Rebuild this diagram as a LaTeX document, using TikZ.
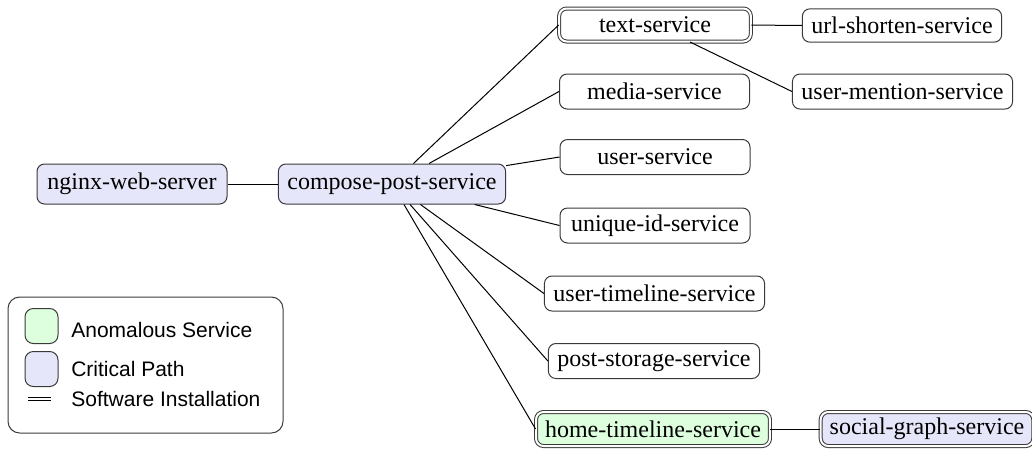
\documentclass[tikz,border=0pt]{standalone}
\usepackage{fontspec}
\setmainfont{Liberation Serif}
\setsansfont{Liberation Sans}
\definecolor{critical}{HTML}{E6E6FA}
\definecolor{anomal}{HTML}{DDFFDD}
\definecolor{rim}{HTML}{3A3A3A}

\begin{document}
\begin{tikzpicture}[x=0.6pt,y=-0.6pt,
        svc/.style={draw=rim, line width=0.6pt, rounded corners=4.5pt, minimum width=114pt,
            minimum height=21pt, inner xsep=5.4pt, inner ysep=0pt, font=\fontsize{14.4}{16}\selectfont},
        crit/.style={svc, fill=critical, minimum height=24pt},
        inst/.style={svc, double, double distance=1.2pt, minimum height=19.8pt},
        keybox/.style={draw=rim, line width=0.6pt, rounded corners=5pt, minimum width=19.8pt, minimum height=21pt},
        keytext/.style={anchor=west, inner sep=0pt, font=\sffamily\fontsize{12.6}{14}\selectfont},
        edge/.style={line width=0.6pt}]
        \useasboundingbox (0,0) rectangle (1032,449);
        \node[crit] (nginx) at (132,184) {nginx-web-server};
        \node[crit] (compose) at (392,184) {compose-post-service};
        \node[inst, minimum width=115pt] (text) at (655,25) {text-service};
        \node[svc, minimum height=20pt] (url) at (902,25.5) {url-shorten-service};
        \node[svc] (media) at (654.5,91.5) {media-service};
        \node[svc] (mention) at (902.5,91.5) {user-mention-service};
        \node[svc] (user) at (655,157) {user-service};
        \node[svc] (uniqueid) at (655,225.5) {unique-id-service};
        \node[svc] (usertl) at (654.5,293.5) {user-timeline-service};
        \node[svc] (storage) at (654,361) {post-storage-service};
        \node[inst, fill=anomal, minimum height=20.4pt] (hometl) at (653,429) {home-timeline-service};
        \node[inst, fill=critical, minimum height=20.4pt] (social) at (927,429) {social-graph-service};
        \draw[edge] (nginx) -- (compose);
        \draw[edge] (compose) -- (text.west);
        \draw[edge] (compose) -- (media.west);
        \draw[edge] (compose) -- (user.west);
        \draw[edge] (compose) -- (uniqueid.west);
        \draw[edge] (compose) -- (usertl.west);
        \draw[edge] (compose) -- (storage.west);
        \draw[edge] (compose) -- (hometl.west);
        \draw[edge] (text) -- (url);
        \draw[edge] (text) -- (mention.west);
        \draw[edge] (hometl) -- (social);
        \draw[rim, line width=0.6pt, rounded corners=7pt] (8,297) rectangle (283,433);
        \node[keybox, fill=anomal] (anomkey) at (41.5,326) {};
        \node[keybox, fill=critical] (critkey) at (41.5,369) {};
        \node[keytext] (anomlabel) at (71,330) {Anomalous Service};
        \node[keytext] (critlabel) at (71,369) {Critical Path};
        \node[keytext] (instlabel) at (71,399) {Software Installation};
        \draw[line width=1pt, double, double distance=0.9pt] (28,399) -- (51,399);
    \end{tikzpicture}
\end{document}
